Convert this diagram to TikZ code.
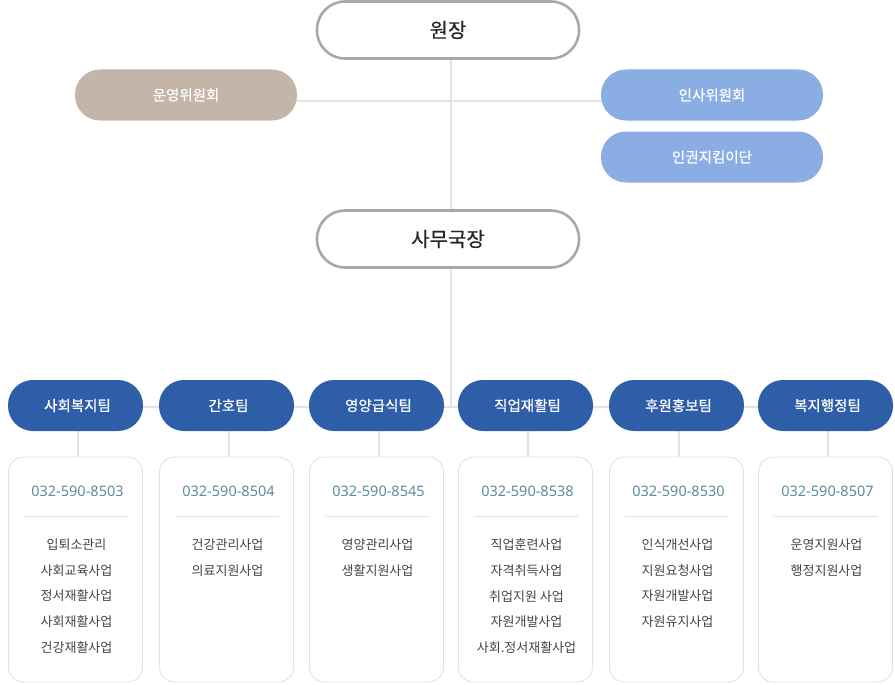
\documentclass[tikz,border=0pt]{standalone}
\usepackage{fontspec}
\setmainfont{Noto Sans CJK KR}
\newfontfamily\medfont[FakeBold=0.5]{Noto Sans CJK KR}
\newfontfamily\phonefont{Noto Sans}
\definecolor{teamblue}{HTML}{2E5EA8}
\definecolor{lightblue}{HTML}{8AAEE4}
\definecolor{beige}{HTML}{C4B5A9}
\definecolor{linegray}{HTML}{E3E3E3}
\definecolor{boxgray}{HTML}{E2E2E2}
\definecolor{headgray}{HTML}{A8A8A8}
\definecolor{phonecol}{HTML}{5E8C9E}
\definecolor{itemcol}{HTML}{444444}
\tikzset{
  conn/.style={draw=linegray, line width=1.6pt},
  head/.style={draw=headgray, line width=2.6pt, fill=white, rounded corners=28pt, minimum width=262pt, minimum height=57pt, font=\medfont\fontsize{20}{24}\selectfont, text=black!85},
  comm/.style={fill=lightblue, rounded corners=25pt, minimum width=222pt, minimum height=51pt, text=white, font=\medfont\fontsize{14.5}{18}\selectfont},
  team/.style={fill=teamblue, rounded corners=25pt, minimum width=135pt, minimum height=51pt, text=white, font=\medfont\fontsize{14.5}{18}\selectfont},
  infobox/.style={draw=boxgray, line width=0.9pt, fill=white, rounded corners=15pt, minimum width=134pt, minimum height=225pt},
  phone/.style={text=phonecol, font=\phonefont\fontsize{14.5}{18}\selectfont},
  items/.style={text=itemcol, font=\fontsize{13}{25.8}\selectfont, align=center, anchor=north},
}
\begin{document}
\begin{tikzpicture}[x=1pt,y=-1pt]
\useasboundingbox (0,0) rectangle (895,685);
% connectors first
\coordinate (top) at (451,60);
\coordinate (trow) at (451,407);
\coordinate (hl) at (297,101);
\coordinate (hr) at (602,101);
\draw[conn] (top) -- (trow);
\draw[conn] (hl) -- (hr);
\draw[conn] (143,407) -- (758,407);
% head nodes
\node[head] (director) at (448,30) {원장};
\node[head] (secgen) at (448,239) {사무국장};
\node[comm, fill=beige] (opc) at (186,95) {운영위원회};
\node[comm] (hrc) at (712,95) {인사위원회};
\node[comm] (rights) at (712,157) {인권지킴이단};
% teams
\foreach \i/\x/\name/\ph/\lst in {
  1/75.5/사회복지팀/032-590-8503/{입퇴소관리\\사회교육사업\\정서재활사업\\사회재활사업\\건강재활사업},
  2/226.5/간호팀/032-590-8504/{건강관리사업\\의료지원사업},
  3/376.5/영양급식팀/032-590-8545/{영양관리사업\\생활지원사업},
  4/525.5/직업재활팀/032-590-8538/{직업훈련사업\\자격취득사업\\취업지원 사업\\자원개발사업\\사회.정서재활사업},
  5/676.5/후원홍보팀/032-590-8530/{인식개선사업\\지원요청사업\\자원개발사업\\자원유지사업},
  6/825.5/복지행정팀/032-590-8507/{운영지원사업\\행정지원사업}} {
  \node[infobox] (box\i) at (\x,569.5) {};
  \draw[conn] (\x+2.5,431) -- (box\i.north -| {(\x+2.5,0)});
  \node[team] (team\i) at (\x,405.5) {\hspace*{4pt}\name};
  \node[phone] (ph\i) at (\x+2,491) {\ph};
  \draw[draw=linegray, line width=0.8pt] (\x-52,516) -- (\x+52,516);
  \node[items] (it\i) at (\x+1,535) {\lst};
}
\end{tikzpicture}
\end{document}
